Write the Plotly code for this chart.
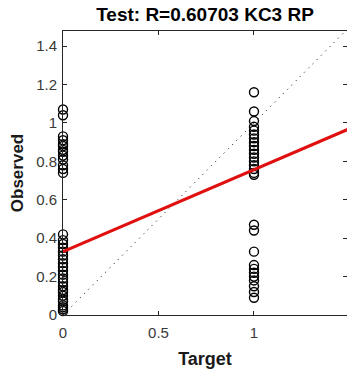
import plotly.graph_objects as go

# ---- data ----
target_0 = [0] * 36
observed_0 = [1.07, 1.04, 0.93, 0.91, 0.89, 0.88, 0.86, 0.85, 0.83, 0.81, 0.78, 0.76, 0.74,
              0.42, 0.39, 0.37, 0.35, 0.33, 0.31, 0.29, 0.27, 0.25, 0.23, 0.21, 0.19, 0.17,
              0.15, 0.13, 0.12, 0.10, 0.08, 0.07, 0.05, 0.04, 0.03, 0.02]
target_1 = [1] * 28
observed_1 = [1.16, 1.06, 1.01, 0.98, 0.96, 0.94, 0.92, 0.90, 0.88, 0.86, 0.84, 0.82, 0.80,
              0.78, 0.76, 0.74, 0.73, 0.47, 0.44, 0.33, 0.26, 0.24, 0.22, 0.20, 0.18, 0.15,
              0.12, 0.09]
ident_x = [0, 1.5]
ident_y = [0, 1.5]
fit_x = [0, 1.5]
fit_y = [0.33, 0.97]
x_ticks = [0, 0.5, 1, 1.5]
x_tick_labels = ["0", "0.5", "1", "1.5"]
y_ticks = [0, 0.2, 0.4, 0.6, 0.8, 1.0, 1.2, 1.4]
y_tick_labels = ["0", "0.2", "0.4", "0.6", "0.8", "1", "1.2", "1.4"]
title_text = "Test: R=0.60703 KC3 RP"

FONT = "Liberation Sans, Arial, sans-serif"
AX = "#262626"

fig = go.Figure()
fig.add_trace(go.Scatter(x=ident_x, y=ident_y, mode="lines",
                         line=dict(color="black", width=1, dash="1px,5px"),
                         showlegend=False, hoverinfo="skip"))
fig.add_trace(go.Scatter(x=target_0 + target_1, y=observed_0 + observed_1, mode="markers",
                         marker=dict(symbol="circle-open", size=9, color="black",
                                     line=dict(width=1.4, color="black")),
                         cliponaxis=False, showlegend=False))
fig.add_trace(go.Scatter(x=fit_x, y=fit_y, mode="lines",
                         line=dict(color="#e01010", width=3.2),
                         showlegend=False, hoverinfo="skip"))
# invisible trace for right-side ticks
fig.add_trace(go.Scatter(x=[None], y=[None], yaxis="y2", showlegend=False))

fig.update_layout(
    width=347, height=375,
    margin=dict(l=63, r=0, t=31, b=60),
    paper_bgcolor="white", plot_bgcolor="white",
    font=dict(family=FONT, color=AX, size=15),
    title=dict(text="<b>" + title_text + "</b>", x=0.5, xref="paper", xanchor="center",
               y=1 - 14 / 375, yref="container", yanchor="middle",
               font=dict(family=FONT, size=19, color="black")),
    xaxis=dict(range=[0, 1.487], tickvals=x_ticks, ticktext=x_tick_labels,
               ticks="inside", ticklen=4, tickcolor=AX, showline=True, linecolor=AX,
               linewidth=1, mirror="ticks", showgrid=False, zeroline=False,
               ticklabelstandoff=4,
               tickfont=dict(size=15, color="#3a3a3a"),
               title=dict(text="<b>Target</b>", standoff=12,
                          font=dict(size=18, color="#1a1a1a"))),
    yaxis=dict(range=[0, 1.479], tickvals=y_ticks, ticktext=y_tick_labels,
               ticks="inside", ticklen=4, tickcolor=AX, showline=True, linecolor=AX,
               linewidth=1, showgrid=False, zeroline=False,
               ticklabelstandoff=2,
               tickfont=dict(size=15, color="#3a3a3a"),
               title=dict(text="<b>Observed</b>", standoff=8,
                          font=dict(size=17, color="#1a1a1a"))),
    yaxis2=dict(range=[0, 1.479], tickvals=y_ticks, overlaying="y", side="right",
                ticks="inside", ticklen=4, tickcolor=AX, showticklabels=False,
                showline=False, showgrid=False, zeroline=False),
)

fig.write_html("out.html")
